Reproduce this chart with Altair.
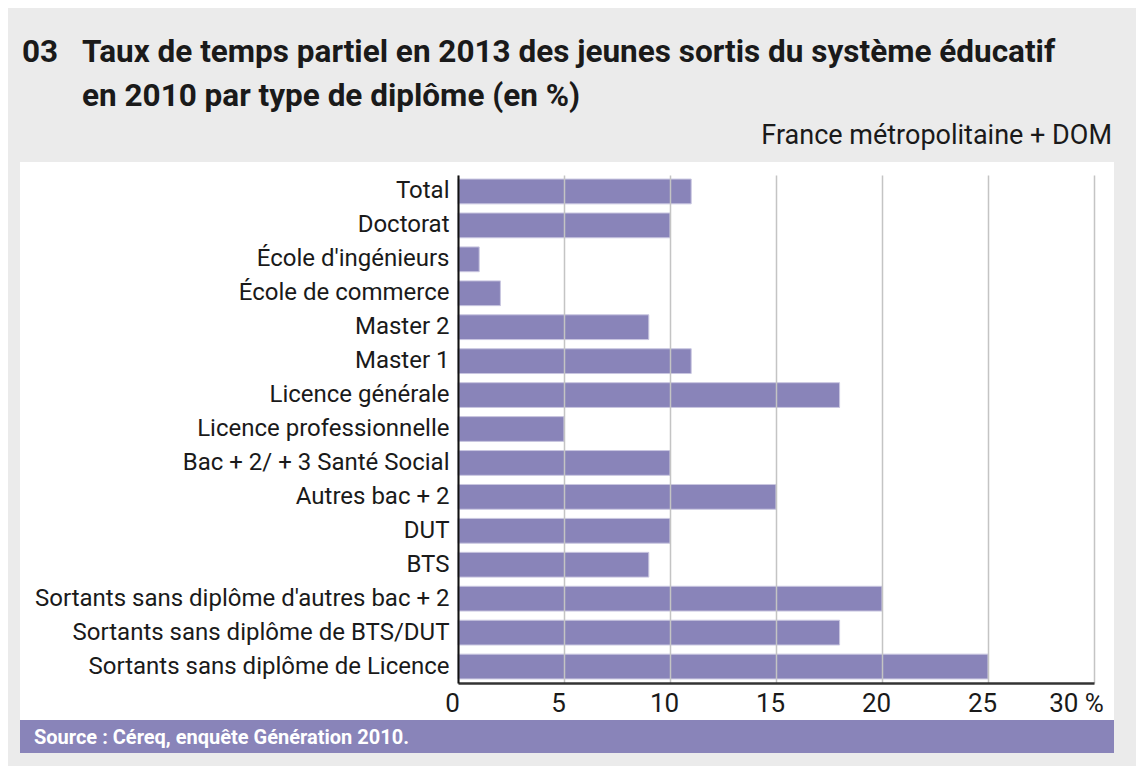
import altair as alt
import pandas as pd

categories = [
    "Total",
    "Doctorat",
    "École d'ingénieurs",
    "École de commerce",
    "Master 2",
    "Master 1",
    "Licence générale",
    "Licence professionnelle",
    "Bac + 2/ + 3 Santé Social",
    "Autres bac + 2",
    "DUT",
    "BTS",
    "Sortants sans diplôme d'autres bac + 2",
    "Sortants sans diplôme de BTS/DUT",
    "Sortants sans diplôme de Licence",
]
values = [11, 10, 1, 2, 9, 11, 18, 5, 10, 15, 10, 9, 20, 18, 25]
x_ticks = [0, 5, 10, 15, 20, 25, 30]

title_num = "03"
title_lines = [
    "Taux de temps partiel en 2013 des jeunes sortis du système éducatif",
    "en 2010 par type de diplôme (en %)",
]
subtitle = "France métropolitaine + DOM"
source = "Source : Céreq, enquête Génération 2010."

FONT = "Liberation Sans Narrow, Roboto, sans-serif"
BAR = "#8984b9"
W, H = 636, 508

df = pd.DataFrame({"cat": categories, "val": values})
one = pd.DataFrame({"k": [0]})

panel = alt.Chart(one).mark_rect(color="white").encode(
    x=alt.value(-438), x2=alt.value(656), y=alt.value(-13), y2=alt.value(545)
)
src_bar = alt.Chart(one).mark_rect(color=BAR).encode(
    x=alt.value(-438), x2=alt.value(656), y=alt.value(545), y2=alt.value(578)
)
src_text = alt.Chart(pd.DataFrame({"t": [source]})).mark_text(
    align="left", baseline="alphabetic", font=FONT, fontSize=20, fontWeight="bold", color="white"
).encode(x=alt.value(-424), y=alt.value(569), text="t")

TSIZE = 31.5
t_num = alt.Chart(pd.DataFrame({"t": [title_num]})).mark_text(
    align="left", baseline="alphabetic", font=FONT, fontSize=TSIZE, fontWeight="bold", color="#1a1a1a"
).encode(x=alt.value(-436), y=alt.value(-113), text="t")
t1 = alt.Chart(pd.DataFrame({"t": [title_lines[0]]})).mark_text(
    align="left", baseline="alphabetic", font=FONT, fontSize=TSIZE, fontWeight="bold", color="#1a1a1a"
).encode(x=alt.value(-376), y=alt.value(-113), text="t")
t2 = alt.Chart(pd.DataFrame({"t": [title_lines[1]]})).mark_text(
    align="left", baseline="alphabetic", font=FONT, fontSize=TSIZE, fontWeight="bold", color="#1a1a1a"
).encode(x=alt.value(-376), y=alt.value(-69), text="t")
sub = alt.Chart(pd.DataFrame({"t": [subtitle]})).mark_text(
    align="right", baseline="alphabetic", font=FONT, fontSize=27, color="#1a1a1a"
).encode(x=alt.value(654), y=alt.value(-31), text="t")

bars = alt.Chart(df).mark_bar(color=BAR, stroke="#c9c6e0", strokeWidth=1).encode(
    y=alt.Y(
        "cat:N",
        sort=categories,
        title=None,
        scale=alt.Scale(paddingInner=0.27, paddingOuter=0.12),
        axis=alt.Axis(
            domain=True, domainColor="#111111", domainWidth=2, ticks=False,
            labelFont=FONT, labelFontSize=24, labelColor="#1a1a1a", labelPadding=9,
            labelLimit=500, grid=False, zindex=1,
        ),
    ),
    x=alt.X(
        "val:Q",
        title=None,
        scale=alt.Scale(domain=[0, 30], nice=False),
        axis=alt.Axis(
            values=x_ticks, domain=True, domainColor="#333333", domainWidth=2.5, ticks=False,
            labelFont=FONT, labelFontSize=26, labelColor="#1a1a1a", labelPadding=7,
            labelOffset={"condition": {"test": "datum.value == 30", "value": -18}, "value": -6},
            labelFlush=False, grid=True, gridColor="#c4c4c4", gridWidth=1.5,
            zindex=1, labelExpr="datum.value == 30 ? '30 %' : datum.label",
        ),
    ),
)

chart = alt.layer(panel, src_bar, src_text, t_num, t1, t2, sub, bars).properties(
    width=W, height=H,
    padding={"left": 450, "top": 167, "right": 42, "bottom": 83},
    autosize=alt.AutoSizeParams(type="none"),
    background="#ebebeb",
).configure_view(stroke=None)

chart.save("out.html", embed_options={"renderer": "svg", "actions": False})
